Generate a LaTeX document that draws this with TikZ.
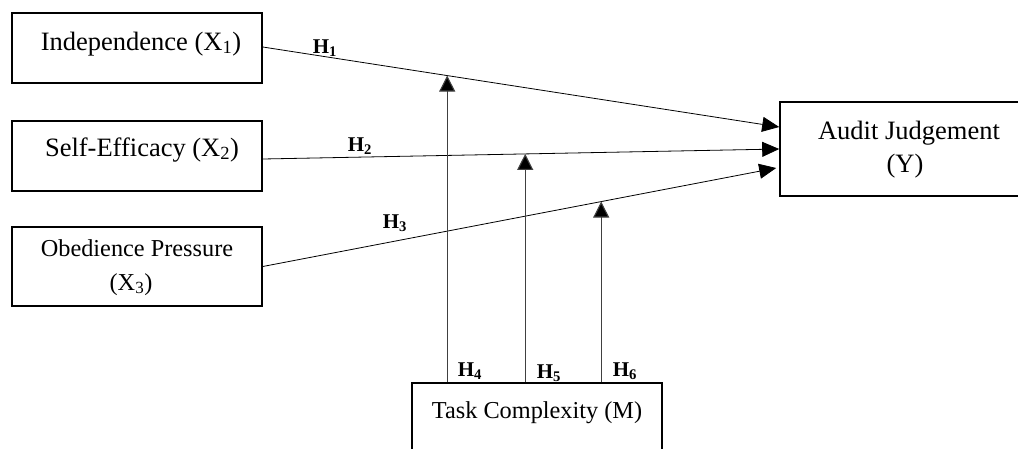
\documentclass[tikz,border=0pt]{standalone}
\usepackage{fontspec}
\setmainfont{Liberation Serif}
\usetikzlibrary{arrows.meta,intersections,calc}

\begin{document}
\begin{tikzpicture}[x=1pt,y=-1pt,
  box/.style={draw,line width=1.6pt,inner sep=0pt},
  lbl/.style={anchor=base,inner sep=0pt,font=\fontsize{26.5}{30}\selectfont},
  lblsmall/.style={anchor=base,inner sep=0pt,font=\fontsize{24.3}{28}\selectfont},
  hyp/.style={anchor=base,inner sep=0pt,font=\fontsize{21}{24}\selectfont\bfseries},
  conn/.style={line width=0.8pt,-{Triangle[length=17pt,width=15pt]}},
  modarrow/.style={line width=1.1pt,draw=black!75,-{Triangle[length=16pt,width=16pt,fill=black]}}
]
\useasboundingbox (0,0) rectangle (1018,448);
\clip (0,0) rectangle (1018,448);

% boxes
\node[box,minimum width=250pt,minimum height=70pt] (x1) at (137,48) {};
\node[box,minimum width=250pt,minimum height=70pt] (x2) at (137,156) {};
\node[box,minimum width=250pt,minimum height=79pt] (x3) at (137,266.5) {};
\node[box,minimum width=260pt,minimum height=94pt] (audit) at (910,149) {};
\node[box,minimum width=250pt,minimum height=80pt] (task) at (537,423) {};

% box texts
\node[lbl] (t1) at (141,50) {Independence (X\textsubscript{1})};
\node[lbl] (t2) at (142,156) {Self-Efficacy (X\textsubscript{2})};
\node[lblsmall] (t3a) at (137,256) {Obedience Pressure};
\node[lblsmall] (t3b) at (131,290) {(X\textsubscript{3})};
\node[lbl] (ya) at (909,139) {Audit Judgement};
\node[lbl] (yb) at (905,172) {(Y)};
\node[lblsmall] (tm) at (537,418) {Task Complexity (M)};

% direct effects
\draw[conn,name path=p1] ([yshift=1pt]x1.east) -- ([yshift=22pt]audit.west);
\draw[conn,name path=p2] ([yshift=-3pt]x2.east) -- (audit.west);
\draw[conn,name path=p3] (x3.east) -- ([xshift=-3pt,yshift=-19pt]audit.west);

% moderating effects
\coordinate (m4) at ([xshift=36pt]task.north west);
\coordinate (m5) at ([xshift=114pt]task.north west);
\coordinate (m6) at ([xshift=190pt]task.north west);
\path[name path=v4] (m4) -- ++(0,-400);
\path[name path=v5] (m5) -- ++(0,-400);
\path[name path=v6] (m6) -- ++(0,-400);
\path[name intersections={of=v4 and p1,by=i4}];
\path[name intersections={of=v5 and p2,by=i5}];
\path[name intersections={of=v6 and p3,by=i6}];
\draw[modarrow] (m4) -- (i4);
\draw[modarrow] (m5) -- (i5);
\draw[modarrow] (m6) -- (i6);

% hypothesis labels
\node[hyp] (h1) at (325,53) {H\textsubscript{1}};
\node[hyp] (h2) at (360,151) {H\textsubscript{2}};
\node[hyp] (h3) at (395,228) {H\textsubscript{3}};
\node[hyp] (h4) at (470,376) {H\textsubscript{4}};
\node[hyp] (h5) at (549,378) {H\textsubscript{5}};
\node[hyp] (h6) at (625,376) {H\textsubscript{6}};
\end{tikzpicture}
\end{document}
